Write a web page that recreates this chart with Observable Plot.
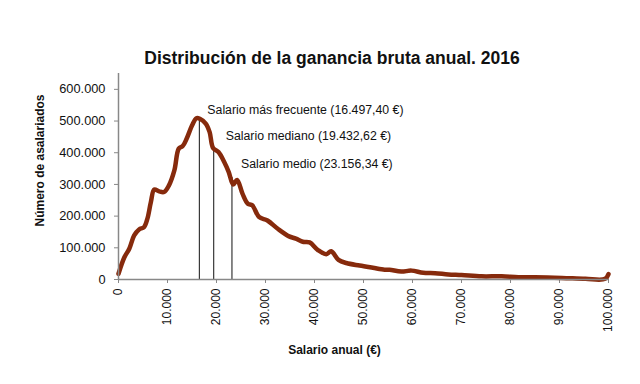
<!DOCTYPE html>
<html><head><meta charset="utf-8">
<script src="https://cdn.jsdelivr.net/npm/d3@7"></script>
<script src="https://cdn.jsdelivr.net/npm/@observablehq/plot@0.6"></script>
<style>
body{margin:0;background:#fff;width:640px;height:384px;overflow:hidden;font-family:"Liberation Sans",Arial,sans-serif}
#title{width:664px;height:68px;box-sizing:border-box;padding-top:47px;line-height:22px;text-align:center;font-weight:bold;font-size:17.5px;color:#111}
</style></head><body>
<div id="title"></div>
<div id="chart"></div>
<script>
const title = "Distribución de la ganancia bruta anual. 2016";
const xLabel = "Salario anual (€)";
const yLabel = "Número de asalariados";

const salary = [0,1200,2200,3200,4200,5200,5900,6600,7300,8300,9300,10300,11400,12300,13100,13900,15000,15900,16600,17800,18600,19300,20400,21600,22500,23400,24200,25300,26400,27300,28700,30400,32500,34800,36200,37600,39000,40700,42400,43400,44900,46500,49200,51900,54300,55300,57700,59800,62200,64600,67300,70000,74100,78200,81600,85000,90500,95300,99300,100000];
const workers = [18000,70000,97000,139000,158000,165000,192000,244000,284000,278000,276000,297000,344000,413000,421000,444000,486000,509000,507000,492000,465000,415000,402000,370000,339000,300000,314000,271000,239000,234000,197000,186000,160000,136000,129000,119000,117000,93000,80000,89000,62000,52000,44000,37000,31000,31000,25000,28000,21000,20000,16000,14000,10000,10000,7000,7000,5000,2000,2000,17000];

const markerNames = ["Salario más frecuente","Salario mediano","Salario medio"];
const markerSalary = [16497.40, 19432.62, 23156.34];
const markerHeight = [509000, 414000, 322000];

const xTicks = [0,10000,20000,30000,40000,50000,60000,70000,80000,90000,100000];
const yTicks = [0,100000,200000,300000,400000,500000,600000];

document.getElementById("title").textContent = title;

const loc = d3.formatLocale({decimal:",", thousands:".", grouping:[3], currency:["","€"]});
const fmtInt = loc.format(",d");
const fmtDec = loc.format(",.2f");
const data = salary.map((s,i)=>({s, n: workers[i]}));
const markers = markerSalary.map((s,i)=>({s, h: markerHeight[i], label: `${markerNames[i]} (${fmtDec(s)} €)`}));
const offsets = [[8,-8],[12,-12],[9,-13]];

const chart = Plot.plot({
  width:640, height:316, marginTop:5, marginBottom:105, marginLeft:118, marginRight:32,
  style:{fontFamily:"'Liberation Sans', Arial, sans-serif", fontSize:"12px", color:"#111", background:"#fff", overflow:"visible"},
  x:{domain:[0,100000], axis:null},
  y:{domain:[0,650000], axis:null},
  marks:[
    Plot.axisX({ticks:xTicks, tickFormat:fmtInt, tickRotate:-90, tickSize:4, tickPadding:5, stroke:"#888", fill:"#111", label:null, fontSize:12}),
    Plot.axisY({ticks:yTicks, tickFormat:fmtInt, tickSize:4, tickPadding:9, stroke:"#888", fill:"#111", label:null, fontSize:12.8}),
    Plot.ruleX(markers, {x:"s", y1:0, y2:"h", stroke:"#111", strokeWidth:1}),
    Plot.line(data, {x:"s", y:"n", stroke:"#862a0c", strokeWidth:4.5, curve:"catmull-rom"}),
    Plot.ruleY([0], {stroke:"#888", strokeWidth:1.5}),
    Plot.ruleX([0], {stroke:"#888", strokeWidth:1.5}),
    ...markers.map((m,i)=>Plot.text([m], {x:"s", y:"h", text:"label", textAnchor:"start", dx:offsets[i][0], dy:offsets[i][1], fontSize:12.3, fill:"#111"})),
    Plot.text([xLabel], {text:d=>d, frameAnchor:"bottom", textAnchor:"middle", lineAnchor:"middle", dx:-29, dy:71, fontWeight:"bold", fontSize:12, fill:"#111"}),
    Plot.text([yLabel], {text:d=>d, frameAnchor:"left", textAnchor:"middle", lineAnchor:"middle", dx:-78, dy:-16, rotate:-90, fontWeight:"bold", fontSize:12, fill:"#111"})
  ]
});
document.getElementById("chart").appendChild(chart);
</script>
</body></html>
